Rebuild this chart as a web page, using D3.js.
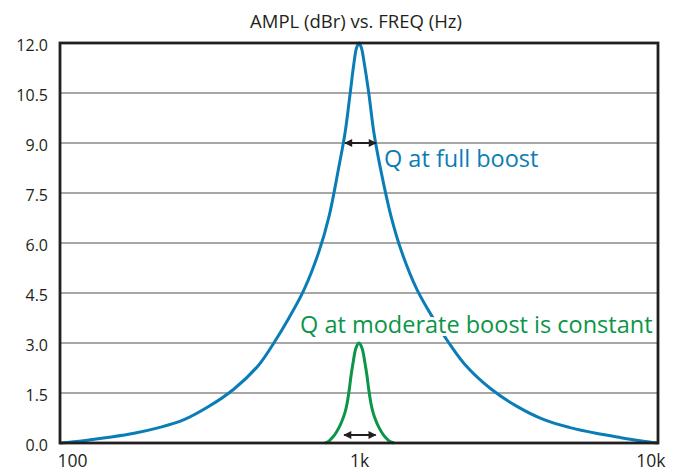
<!DOCTYPE html>
<html><head><meta charset="utf-8">
<script src="https://cdn.jsdelivr.net/npm/d3@7"></script>
<style>body{margin:0;background:#fff}svg{display:block}</style>
</head><body><svg id="c" width="678" height="472"></svg>
<script>
// ---- data ----
const title = "AMPL (dBr) vs. FREQ (Hz)";
const yTicks = [0, 1.5, 3, 4.5, 6, 7.5, 9, 10.5, 12];
const xTicks = [100, 1000, 10000];
const xTickLabels = ["100", "1k", "10k"];

// Q at full boost (blue), Hz / dBr
const fullBoostFreq = [100, 120, 146, 177, 214, 260, 315, 382, 463, 519, 583, 655, 735, 794, 857, 898, 933, 962, 981, 1000,
                       1019, 1041, 1078, 1122, 1176, 1280, 1387, 1563, 1768, 2000, 2264, 2765, 3376, 4157, 5083, 6200, 7520, 8710, 10000];
const fullBoostAmp  = [0, 0.07, 0.17, 0.29, 0.46, 0.70, 1.10, 1.62, 2.35, 3.0, 3.75, 4.6, 5.75, 6.8, 8.3, 9.3, 10.45, 11.4, 11.85, 12.0,
                       11.85, 11.4, 10.5, 9.3, 8.3, 6.8, 5.75, 4.6, 3.75, 3.0, 2.35, 1.62, 1.10, 0.70, 0.46, 0.29, 0.16, 0.07, 0];

// Q at moderate boost (green), Hz / dBr
const moderateFreq = [770, 788, 806, 831, 857, 877, 898, 912, 926, 940, 955, 977, 1000, 1023, 1047, 1064, 1080, 1097, 1114, 1140, 1167, 1203, 1241, 1270, 1310];
const moderateAmp  = [0, 0.04, 0.12, 0.26, 0.46, 0.66, 0.92, 1.18, 1.55, 2.0, 2.4, 2.85, 3.0, 2.85, 2.4, 2.0, 1.55, 1.18, 0.92, 0.66, 0.46, 0.26, 0.12, 0.04, 0];

const arrowFreqs = [[891, 1148], [885, 1146]];
const arrowAmps = [9.0, 0.24];

const labelFull = "Q at full boost";
const labelModerate = "Q at moderate boost is constant";
const labelFullPos = [1212, 8.29];
const labelModeratePos = [635, 3.29];

// ---- layout ----
const W = 678, H = 472;
const m = {left: 60, right: 20, top: 43, bottom: 29};
const blue = "#0a7db6", green = "#0b9548";
const font = "'Open Sans', sans-serif";

const svg = d3.select("#c");
const x = d3.scaleLog().domain([100, 10000]).range([m.left, W - m.right]);
const y = d3.scaleLinear().domain([0, 12]).range([H - m.bottom, m.top]);

// gridlines
svg.append("g").selectAll("line").data(yTicks.filter(d => d > 0 && d < 12)).join("line")
  .attr("x1", m.left).attr("x2", W - m.right)
  .attr("y1", d => y(d)).attr("y2", d => y(d))
  .attr("stroke", "#8a8a8a").attr("stroke-width", 1.6);

// y axis labels
const yAxis = d3.axisLeft(y).tickValues(yTicks).tickFormat(d3.format(".1f")).tickSize(0).tickPadding(12);
const gy = svg.append("g").attr("transform", `translate(${m.left},0)`).call(yAxis);
gy.select(".domain").remove();
gy.selectAll("text").attr("font-family", font).attr("font-size", 16).attr("fill", "#231f20").attr("dy", "0.45em");

// x axis labels
const xAxis = d3.axisBottom(x).tickValues(xTicks).tickFormat((d, i) => xTickLabels[i]).tickSize(0).tickPadding(0);
const gx = svg.append("g").attr("transform", `translate(0,${H - m.bottom})`).call(xAxis);
gx.select(".domain").remove();
gx.selectAll("text").attr("font-family", font).attr("font-size", 17.5).attr("fill", "#231f20")
  .attr("y", 23.5).attr("dy", 0)
  .attr("text-anchor", (d, i) => i === 0 ? "start" : (i === xTicks.length - 1 ? "end" : "middle"))
  .attr("dx", (d, i) => i === 0 ? -3 : (i === xTicks.length - 1 ? 7 : 0));

// curves
const line = d3.line().x(d => x(d[0])).y(d => y(d[1])).curve(d3.curveCatmullRom.alpha(0.5));
svg.append("path").datum(fullBoostFreq.map((f, i) => [f, fullBoostAmp[i]]))
  .attr("d", line).attr("fill", "none").attr("stroke", blue).attr("stroke-width", 3);
svg.append("path").datum(moderateFreq.map((f, i) => [f, moderateAmp[i]]))
  .attr("d", line).attr("fill", "none").attr("stroke", green).attr("stroke-width", 3);

// frame
svg.append("rect").attr("x", m.left).attr("y", m.top)
  .attr("width", W - m.left - m.right).attr("height", H - m.top - m.bottom)
  .attr("fill", "none").attr("stroke", "#231f20").attr("stroke-width", 2.8);

// arrows
const defs = svg.append("defs");
defs.append("marker").attr("id", "ah").attr("viewBox", "0 0 10 10").attr("refX", 9).attr("refY", 5)
  .attr("markerWidth", 10).attr("markerHeight", 8).attr("markerUnits", "userSpaceOnUse").attr("orient", "auto-start-reverse")
  .append("path").attr("d", "M0,0L10,5L0,10Z").attr("fill", "#231f20");
svg.append("g").selectAll("line").data(arrowFreqs).join("line")
  .attr("x1", d => x(d[0]) + 1).attr("x2", d => x(d[1]) - 1)
  .attr("y1", (d, i) => y(arrowAmps[i])).attr("y2", (d, i) => y(arrowAmps[i]))
  .attr("stroke", "#231f20").attr("stroke-width", 2)
  .attr("marker-start", "url(#ah)").attr("marker-end", "url(#ah)");

// labels
svg.append("text").attr("x", x(labelFullPos[0])).attr("y", y(labelFullPos[1]))
  .attr("font-family", font).attr("font-size", 23.5).attr("fill", blue)
  .attr("stroke", "#fff").attr("stroke-width", 6).attr("paint-order", "stroke").text(labelFull);
svg.append("text").attr("x", x(labelModeratePos[0])).attr("y", y(labelModeratePos[1]))
  .attr("font-family", font).attr("font-size", 23.5).attr("fill", green)
  .attr("stroke", "#fff").attr("stroke-width", 6).attr("paint-order", "stroke").text(labelModerate);

// title
svg.append("text").attr("x", x(1000) - 3).attr("y", 28).attr("text-anchor", "middle")
  .attr("font-family", font).attr("font-size", 18.5).attr("fill", "#231f20").text(title);
</script>
</body></html>
